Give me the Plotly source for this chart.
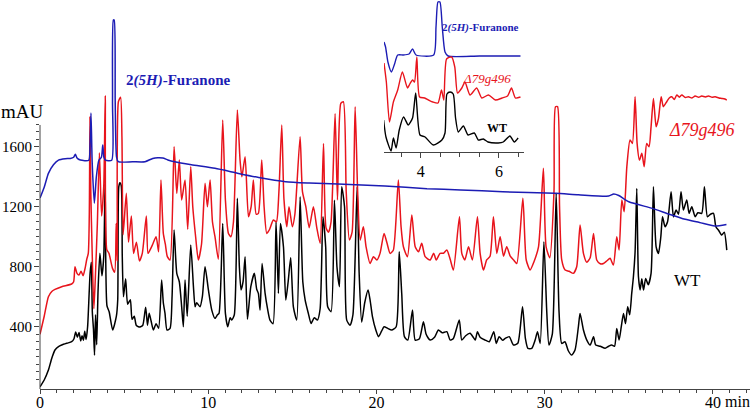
import plotly.graph_objects as go

# retention time (min) and absorbance (mAU)
wt_time = [0, 0.25, 0.5, 0.7, 0.89, 1.1, 1.29, 1.6, 1.88, 2.02, 2.12, 2.22, 2.32, 2.42, 2.5, 2.58,
           2.66, 2.74, 2.83, 2.92, 2.98, 3.05, 3.11, 3.18, 3.24, 3.3, 3.37, 3.45, 3.56, 3.68, 3.79,
           3.87, 3.98, 4.11, 4.32, 4.54, 4.62, 4.68, 4.75, 4.83, 4.89, 4.96, 5.09, 5.21, 5.37, 5.47,
           5.6, 5.72, 5.85, 5.98, 6.11, 6.28, 6.39, 6.49, 6.6, 6.74, 6.9, 7.05, 7.23, 7.33, 7.43,
           7.55, 7.73, 7.85, 7.97, 8.13, 8.28, 8.42, 8.52, 8.62, 8.75, 8.96, 9.12, 9.22, 9.31, 9.51,
           9.65, 9.81, 10.01, 10.21, 10.4, 10.55, 10.64, 10.86, 11.02, 11.16, 11.3, 11.4, 11.55,
           11.73, 11.85, 11.95, 12.07, 12.19, 12.33, 12.53, 12.74, 12.88, 12.98, 13.08, 13.2, 13.38,
           13.52, 13.67, 13.85, 14.03, 14.17, 14.29, 14.47, 14.61, 14.75, 14.9, 15.06, 15.26, 15.46,
           15.62, 15.76, 15.95, 16.11, 16.3, 16.49, 16.65, 16.82, 16.98, 17.1, 17.3, 17.5, 17.65,
           17.8, 17.93, 18.1, 18.23, 18.43, 18.6, 18.85, 18.97, 19.12, 19.3, 19.5, 19.62, 19.76,
           19.96, 20.12, 20.3, 20.45, 20.67, 20.9, 21.17, 21.35, 21.5, 21.66, 21.86, 22.14, 22.3,
           22.55, 22.79, 22.95, 23.19, 23.45, 23.68, 23.9, 24.18, 24.38, 24.57, 24.92, 25.07, 25.3,
           25.56, 25.75, 25.87, 26.0, 26.16, 26.46, 26.7, 26.97, 27.12, 27.29, 27.5, 27.65, 27.89,
           28.14, 28.4, 28.68, 28.85, 29.0, 29.23, 29.43, 29.57, 29.73, 29.95, 30.12, 30.25, 30.45,
           30.68, 30.85, 31.01, 31.2, 31.4, 31.6, 31.8, 32.0, 32.1, 32.3, 32.5, 32.7, 32.9, 33.03,
           33.3, 33.59, 33.8, 33.98, 34.15, 34.28, 34.42, 34.55, 34.68, 34.8, 34.93, 35.05, 35.17,
           35.27, 35.37, 35.47, 35.57, 35.67, 35.77, 35.87, 36.0, 36.15, 36.32, 36.46, 36.62, 36.76,
           36.9, 37.0, 37.15, 37.3, 37.51, 37.65, 37.81, 37.95, 38.1, 38.24, 38.44, 38.58, 38.74,
           38.94, 39.1, 39.33, 39.49, 39.67, 39.85, 40.03, 40.17, 40.35, 40.52, 40.67, 40.82]
wt_mau = [0, 45, 111, 190, 245, 268, 278, 290, 300, 320, 365, 330, 362, 305, 340, 310,
          370, 315, 400, 620, 760, 830, 500, 380, 210, 480, 280, 640, 890, 740, 870,
          1356, 540, 500, 378, 470, 580, 1330, 1360, 1340, 870, 600, 720, 550, 580, 450,
          470, 410, 400, 400, 410, 530, 410, 490, 440, 378, 420, 390, 711, 560, 489,
          378, 389, 600, 1045, 756, 700, 534, 400, 711, 470, 945, 667, 533, 560, 533,
          600, 800, 645, 511, 456, 480, 489, 1089, 489, 400, 460, 445, 480,
          1256, 800, 645, 700, 867, 450, 667, 756, 650, 622, 511, 822, 622,
          522, 444, 420, 1100, 622, 1089, 933, 578, 700, 860, 533, 445, 1267,
          700, 578, 489, 422, 460, 445, 520, 1133, 933, 533, 500, 1244, 800,
          667, 1333, 1200, 444, 410, 480, 1333, 756, 430, 560, 645, 578, 467,
          378, 334, 370, 400, 389, 378, 400, 900, 622, 334, 311, 511, 311,
          320, 433, 350, 311, 330, 378, 360, 367, 311, 322, 445, 311, 340,
          356, 330, 311, 367, 330, 311, 300, 367, 289, 334, 310, 322, 334,
          278, 290, 533, 322, 256, 256, 311, 367, 289, 967, 500, 278, 350,
          1289, 500, 289, 300, 240, 211, 245, 400, 489, 378, 311, 278, 334, 278,
          270, 256, 270, 278, 270, 389, 311, 400, 489, 420, 533, 480, 622,
          733, 900, 1322, 733, 645, 720, 645, 722, 680, 756, 1333, 933, 889,
          1000, 1133, 1067, 1100, 1300, 1133, 1178, 1150, 1300, 1178, 1245, 1156, 1200,
          1133, 1160, 1156, 1333, 1133, 1150, 1156, 1067, 1040, 1011, 1030, 911]

mut_time = [0, 0.25, 0.5, 0.7, 0.89, 1.29, 1.88, 2.0, 2.08, 2.2, 2.32, 2.44, 2.56, 2.68, 2.78,
            2.87, 2.93, 2.97, 3.02, 3.1, 3.2, 3.28, 3.41, 3.53, 3.66, 3.79, 3.88, 3.97, 4.1,
            4.31, 4.44, 4.53, 4.59, 4.66, 4.79, 4.87, 4.94, 5.13, 5.26, 5.43, 5.56, 5.73, 5.91,
            6.08, 6.32, 6.42, 6.55, 6.7, 6.9, 7.05, 7.19, 7.33, 7.45, 7.57, 7.73, 7.97, 8.13,
            8.28, 8.42, 8.62, 8.78, 8.96, 9.08, 9.25, 9.41, 9.6, 9.81, 9.95, 10.11, 10.25, 10.4,
            10.6, 10.86, 11.02, 11.2, 11.35, 11.5, 11.73, 11.89, 12.0, 12.19, 12.39, 12.55, 12.68,
            12.85, 12.98, 13.18, 13.32, 13.48, 13.65, 13.87, 14.05, 14.2, 14.37, 14.5, 14.67, 14.8,
            15.0, 15.15, 15.46, 15.6, 15.8, 16.0, 16.25, 16.45, 16.65, 16.85, 17.0, 17.15, 17.3,
            17.54, 17.68, 17.88, 18.03, 18.2, 18.39, 18.55, 18.73, 18.88, 19.03, 19.22, 19.38,
            19.62, 19.82, 20.02, 20.21, 20.45, 20.62, 20.81, 21.0, 21.3, 21.46, 21.6, 21.84, 22.1,
            22.3, 22.5, 22.69, 22.89, 23.19, 23.4, 23.55, 23.78, 23.98, 24.18, 24.38, 24.57, 24.93,
            25.07, 25.25, 25.47, 25.7, 26.0, 26.16, 26.36, 26.55, 26.75, 26.95, 27.15, 27.35, 27.55,
            27.74, 27.95, 28.15, 28.34, 28.7, 28.9, 29.13, 29.35, 29.63, 29.92, 30.08, 30.3, 30.55,
            30.64, 30.76, 30.88, 31.01, 31.21, 31.45, 31.7, 31.9, 32.1, 32.3, 32.5, 32.7, 32.9,
            33.09, 33.3, 33.49, 33.7, 33.88, 34.08, 34.28, 34.42, 34.58, 34.72, 34.88, 35.07, 35.21,
            35.37, 35.49, 35.63, 35.77, 35.91, 36.06, 36.2, 36.32, 36.46, 36.62, 36.76, 36.92, 37.05,
            37.25, 37.4, 37.55, 37.7, 37.85, 38.0, 38.15, 38.35, 38.54, 38.75, 38.94, 39.15, 39.33,
            39.55, 39.73, 39.95, 40.13, 40.35, 40.52, 40.7, 40.82]
mut_mau = [350, 470, 600, 635, 649, 667, 685, 700, 800, 756, 745, 770, 740, 790, 850,
           889, 1150, 1800, 1300, 900, 520, 700, 1089, 1560, 1139, 1339, 1940, 914, 889,
           789, 764, 1089, 839, 1900, 1930, 1664, 1014, 1289, 964, 1139, 889, 964, 839,
           889, 1139, 889, 914, 950, 1000, 900, 1378, 1022, 950, 867, 845, 1600, 1289,
           1511, 1245, 1378, 1050, 1467, 1200, 1000, 845, 950, 1356, 1200, 1378, 1100, 1000,
           850, 1778, 1245, 1022, 1000, 1100, 1845, 1511, 1400, 1533, 1133, 1200, 1378,
           1150, 1156, 1511, 1200, 1022, 1050, 1111, 1100, 1300, 1745, 1250, 1067, 1200,
           1067, 1150, 1667, 1300, 1200, 1060, 1200, 1060, 956, 1622, 1060, 1030, 1100,
           1822, 1245, 1889, 1900, 1300, 978, 1030, 1867, 1300, 978, 1067, 933,
           822, 867, 845, 889, 1022, 960, 889, 910, 1378, 1067, 933, 867, 1145,
           933, 900, 956, 867, 845, 890, 845, 889, 890, 911, 850, 778, 1133,
           889, 845, 933, 845, 1133, 889, 778, 845, 870, 1133, 889, 1000, 870,
           933, 870, 845, 822, 1256, 845, 778, 830, 933, 1456, 933, 860, 1300,
           1867, 1867, 1200, 845, 778, 770, 756, 800, 1078, 889, 830, 860, 1022,
           845, 820, 822, 840, 856, 811, 1000, 911, 1245, 1167, 1467, 1645, 1622,
           1933, 1622, 1511, 1556, 1467, 1622, 1600, 1733, 1922, 1733, 1789, 1933, 1867,
           1900, 1925, 1933, 1915, 1945, 1930, 1945, 1928, 1933, 1925, 1938, 1930, 1938,
           1932, 1938, 1930, 1933, 1925, 1922, 1918, 1911]

fur_time = [0, 0.25, 0.5, 0.8, 1.1, 1.5, 1.8, 2.0, 2.1, 2.2, 2.4, 2.9, 2.97, 3.03, 3.1, 3.23,
            3.35, 3.5, 3.65, 3.73, 3.8, 3.9, 4.26, 4.31, 4.36, 4.41, 4.47, 4.55, 4.65, 5.5, 6.24,
            6.7, 7.0, 7.3, 7.6, 8.0, 9.0, 10.4, 11.8, 13.0, 14.6, 16.0, 17.7, 20.5, 23.0, 25.0,
            27.5, 30.6, 32.0, 33.8, 34.1, 34.4, 35.0, 36.4, 37.4, 38.35, 39.2, 40.1, 40.8]
fur_mau = [1258, 1330, 1422, 1480, 1511, 1520, 1522, 1530, 1550, 1525, 1511, 1510, 1600, 1824,
           1500, 1224, 1400, 1510, 1530, 1611, 1530, 1510, 1510, 1900, 2445, 2445, 1900, 1530,
           1500, 1500, 1500, 1522, 1527, 1525, 1512, 1500, 1480, 1456, 1422, 1395, 1367, 1358,
           1351, 1338, 1320, 1312, 1300, 1289, 1280, 1271, 1285, 1275, 1233, 1189, 1150, 1116,
           1095, 1071, 1082]

# inset: 3-6.6 min enlarged, heights in arbitrary offset units
ins_fur_time = [3.06, 3.1, 3.16, 3.25, 3.33, 3.41, 3.55, 3.7, 3.79, 3.88, 4.33, 4.39, 4.44,
                4.49, 4.55, 4.62, 4.7, 5.5, 6.55]
ins_fur_val = [110, 105, 90, 80, 88, 97, 97, 98, 103, 97, 97, 125, 150, 150, 125, 100, 96, 96, 96]

ins_mut_time = [3.06, 3.12, 3.2, 3.3, 3.41, 3.53, 3.66, 3.72, 3.79, 3.84, 3.9, 3.97, 4.1, 4.2,
                4.31, 4.44, 4.53, 4.59, 4.66, 4.79, 4.87, 4.94, 5.05, 5.13, 5.26, 5.43, 5.56,
                5.73, 5.91, 6.08, 6.22, 6.32, 6.42, 6.55]
ins_mut_val = [89, 70, 30, 50, 62, 80, 64, 68, 72, 70, 95, 55, 54, 52, 50, 49, 62, 52, 93, 95,
               85, 59, 64, 70, 57, 64, 54, 57, 52, 54, 56, 64, 54, 55]

ins_wt_time = [3.05, 3.11, 3.24, 3.3, 3.37, 3.45, 3.56, 3.68, 3.79, 3.87, 3.98, 4.11, 4.32,
               4.54, 4.62, 4.67, 4.75, 4.83, 4.89, 4.96, 5.09, 5.21, 5.37, 5.47, 5.6, 5.72,
               5.98, 6.11, 6.28, 6.39, 6.49]
ins_wt_val = [32, 15, 1, 14, 4, 22, 35, 27, 34, 59, 17, 15, 7, 12, 19, 58, 60, 58, 34, 20, 26,
              17, 19, 12, 13, 10, 9, 10, 16, 10, 14]

BLUE = "#1c1cb4"
RED = "#e8141c"
SERIF = "Liberation Serif"
W, H = 750, 412
ML, MB = 40, 23


def px(x, y):
    """pixel position -> paper coordinates"""
    return (x - ML) / (W - ML), (H - MB - y) / (H - MB)


fig = go.Figure()
line_kw = dict(shape="spline", smoothing=0.6, width=1.5)
fig.add_trace(go.Scatter(x=wt_time, y=wt_mau, mode="lines", line=dict(color="black", **line_kw)))
fig.add_trace(go.Scatter(x=mut_time, y=mut_mau, mode="lines", line=dict(color=RED, **line_kw)))
fig.add_trace(go.Scatter(x=fur_time, y=fur_mau, mode="lines", line=dict(color=BLUE, **line_kw)))

ins_kw = dict(shape="spline", smoothing=0.6, width=1.4)
fig.add_trace(go.Scatter(x=ins_fur_time, y=ins_fur_val, mode="lines", xaxis="x2", yaxis="y2",
                         line=dict(color=BLUE, **ins_kw)))
fig.add_trace(go.Scatter(x=ins_mut_time, y=ins_mut_val, mode="lines", xaxis="x2", yaxis="y2",
                         line=dict(color=RED, **ins_kw)))
fig.add_trace(go.Scatter(x=ins_wt_time, y=ins_wt_val, mode="lines", xaxis="x2", yaxis="y2",
                         line=dict(color="black", **ins_kw)))

axis_col = "#444444"
tick_font = dict(family=SERIF, size=16, color="black")

fig.update_layout(
    width=W, height=H,
    margin=dict(l=ML, r=0, t=0, b=MB, autoexpand=False),
    paper_bgcolor="white", plot_bgcolor="white",
    showlegend=False,
    xaxis=dict(range=[0, 42.2], showgrid=False, zeroline=False, showline=True, automargin=False,
               linecolor=axis_col, linewidth=1, ticks="outside", ticklen=4, tickcolor=axis_col,
               tickvals=[0, 10, 20, 30, 40], tickfont=tick_font, ticklabelstandoff=-5,
               minor=dict(tickmode="array", tickvals=[i for i in range(1, 43) if i % 10],
                          ticks="outside", ticklen=3, tickcolor=axis_col)),
    yaxis=dict(range=[-15, 2578], showgrid=False, zeroline=False, showline=False,
               automargin=False, ticks="outside", ticklen=5, tickcolor=axis_col,
               tickvals=[400, 800, 1200, 1600], ticklabelstandoff=-1,
               tickfont=dict(family=SERIF, size=15, color="black"),
               minor=dict(tickmode="array",
                          tickvals=[v for v in range(0, 1751, 50) if v % 400],
                          ticks="outside", ticklen=3, tickcolor=axis_col)),
    xaxis2=dict(domain=[px(384, 0)[0], px(524, 0)[0]], anchor="y2", range=[3.06, 6.64],
                showgrid=False, zeroline=False, showline=True, linecolor=axis_col,
                automargin=False, ticks="outside", ticklen=5, tickcolor=axis_col,
                tickvals=[4, 6], tickfont=dict(family=SERIF, size=16, color="black"),
                minor=dict(tickmode="array", tickvals=[3.5, 4.5, 5, 5.5, 6.5],
                           ticks="outside", ticklen=4, tickcolor=axis_col)),
    yaxis2=dict(domain=[px(0, 152)[1], 1.0], anchor="x2", range=[0, 152], visible=False),
)

# y axis line stops at the top of the scale
fig.add_shape(type="line", xref="paper", yref="y", x0=0, x1=0, y0=-15, y1=1745,
              line=dict(color=axis_col, width=1))


def note(text, x, y, size, color="black"):
    xp, yp = px(x, y)
    fig.add_annotation(text=text, x=xp, y=yp, xref="paper", yref="paper", showarrow=False,
                       xanchor="center", yanchor="middle",
                       font=dict(family=SERIF, size=size, color=color))


note("mAU", 22, 112, 19)
note("min", 737, 401, 16)
note("<b>2<i>(5H)</i>-Furanone</b>", 178, 80, 15, BLUE)
note("<i>Δ79g496</i>", 702, 130, 18, RED)
note("WT", 687, 280, 17)
note("<b>2<i>(5H)</i>-Furanone</b>", 481, 27, 11, BLUE)
note("<i>Δ79g496</i>", 487, 78, 13, RED)
note("<b>WT</b>", 497, 128, 12)

# the page has a default body margin; drop it so the figure sits at the corner
fig.write_html("out.html", config={"displayModeBar": False},
               post_script="document.body.style.margin='0px';")
